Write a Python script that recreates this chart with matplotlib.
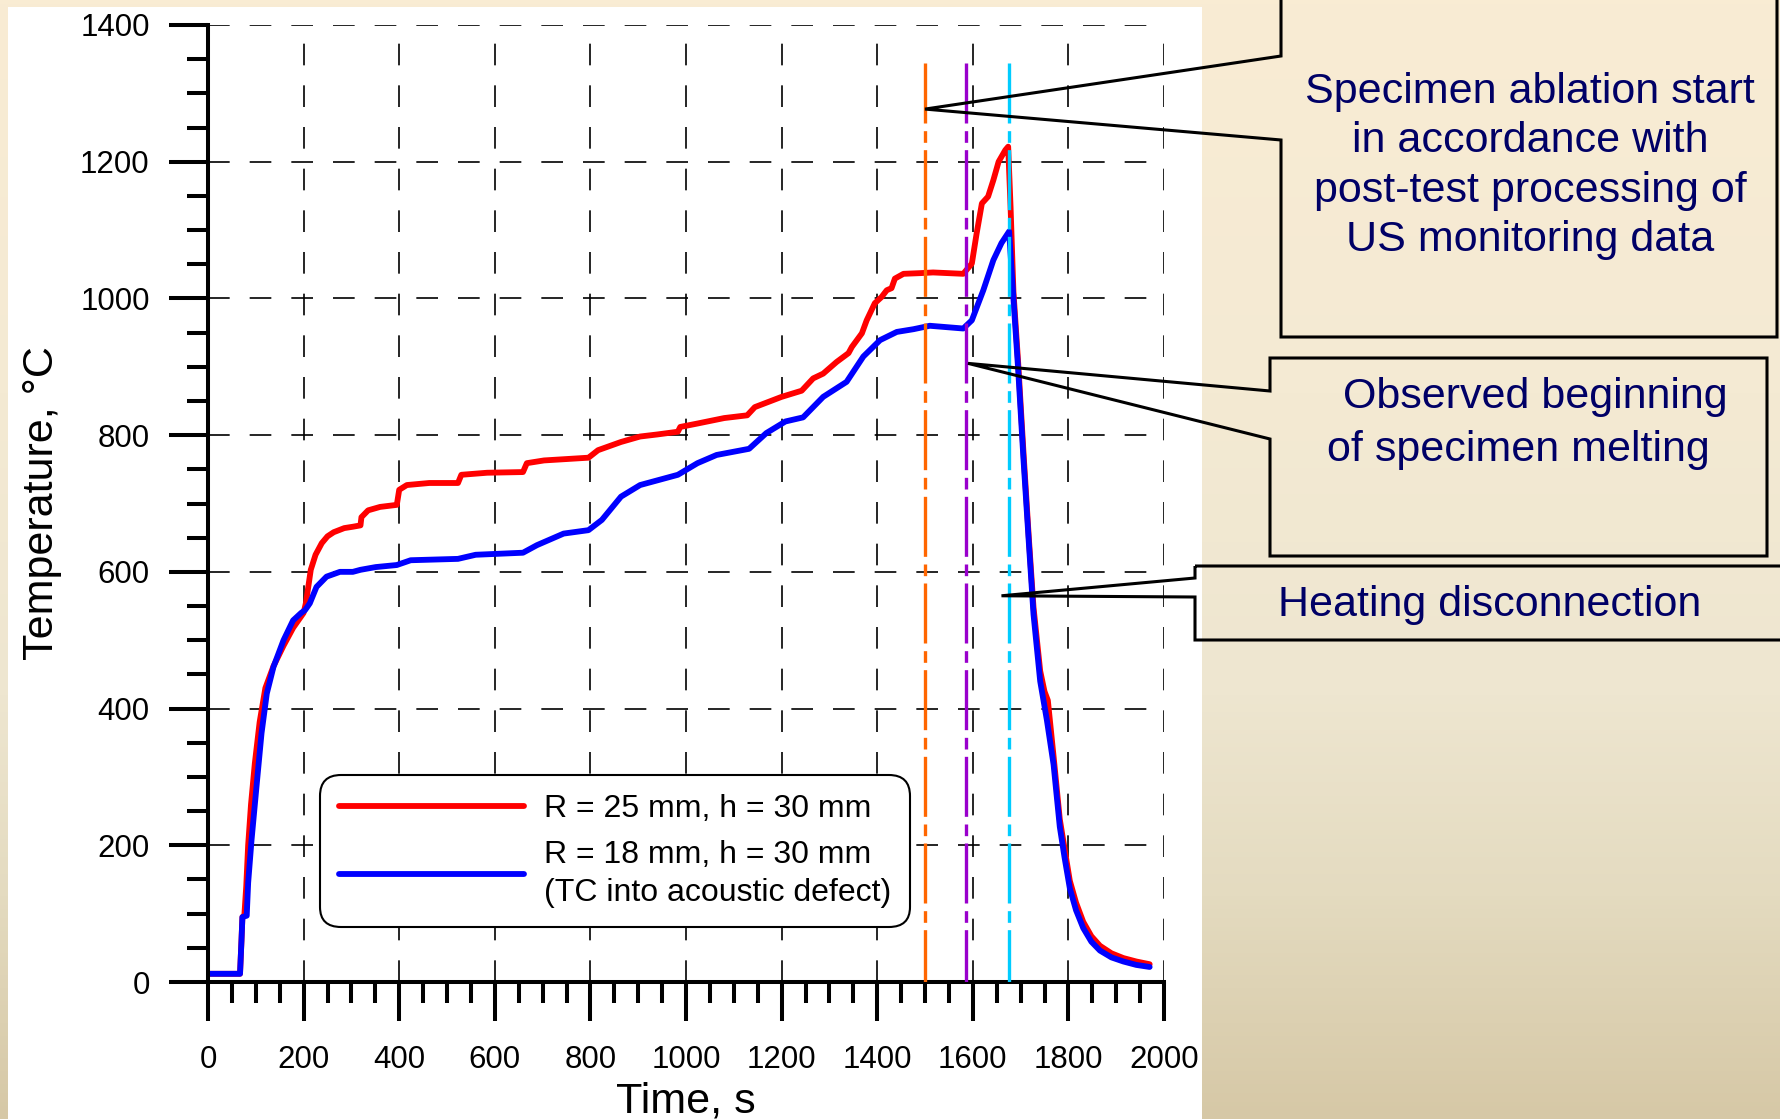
import matplotlib.pyplot as plt
import numpy as np
from matplotlib.patches import Polygon, Rectangle
from matplotlib.colors import LinearSegmentedColormap

plt.rcParams['font.family'] = ['Liberation Sans', 'DejaVu Sans']

# ---------------- data ----------------
# R = 25 mm, h = 30 mm
time_r = [0, 67, 70, 72, 76, 80, 84, 90, 98, 108, 120, 137, 158, 178, 200,
          205, 215, 225, 238, 250, 263, 285, 303, 319, 321, 335, 360, 395,
          400, 416, 463, 523, 530, 584, 659, 667, 703, 796, 816, 864, 904,
          940, 983, 988, 1024, 1080, 1128, 1144, 1200, 1242, 1266, 1287,
          1315, 1340, 1347, 1368, 1378, 1395, 1409, 1420, 1430, 1437, 1455,
          1490, 1517, 1580, 1598, 1608, 1619, 1632, 1643, 1654, 1668, 1674,
          1679, 1685, 1695, 1706, 1717, 1727, 1741, 1750, 1757, 1769, 1782,
          1792, 1803, 1816, 1831, 1848, 1866, 1890, 1915, 1942, 1970]
temp_r = [12, 12, 60, 95, 97, 140, 200, 260, 320, 380, 430, 462, 492, 518, 540,
          555, 603, 625, 642, 652, 658, 664, 666, 668, 680, 690, 695, 698,
          720, 727, 730, 730, 742, 745, 746, 759, 763, 767, 778, 790, 798,
          801, 805, 812, 817, 825, 829, 841, 856, 865, 883, 890,
          907, 920, 929, 949, 968, 993, 1002, 1012, 1015, 1029, 1036,
          1037, 1038, 1036, 1051, 1095, 1139, 1149, 1173, 1200, 1217, 1222,
          1134, 1010, 905, 775, 652, 548, 455, 425, 412, 330, 238,
          195, 148, 116, 88, 67, 53, 42, 35, 30, 26]

# R = 18 mm, h = 30 mm (TC into acoustic defect)
time_b = [0, 67, 70, 72, 81, 84, 91, 102, 112, 123, 137, 158, 178, 195, 203,
          213, 227, 248, 276, 303, 319, 351, 395, 424, 523, 560, 659, 688,
          744, 796, 824, 864, 904, 983, 1024, 1064, 1132, 1168, 1208, 1245,
          1287, 1336, 1371, 1406, 1441, 1476, 1510, 1545, 1580, 1598, 1622,
          1643, 1660, 1676, 1685, 1695, 1706, 1717, 1727, 1741, 1755, 1769,
          1782, 1792, 1803, 1816, 1831, 1848, 1866, 1890, 1915, 1942, 1970]
temp_b = [12, 12, 60, 95, 97, 145, 207, 290, 364, 422, 461, 500, 529, 540, 544,
          554, 578, 593, 600, 600, 603, 607, 610, 617, 619, 625, 628, 639,
          656, 661, 676, 710, 727, 742, 759, 771, 780, 803, 820, 826,
          856, 878, 915, 939, 951, 955, 960, 958, 956, 968, 1012,
          1056, 1081, 1098, 1000, 895, 765, 645, 538, 440, 383, 318,
          227, 182, 137, 105, 79, 59, 46, 36, 30, 25, 22]

# event markers: ablation start, melting onset, heating off
event_time = [1500, 1585, 1675]
event_color = ['#FF6600', '#9900CC', '#00CCFF']
event_top = 1345

labels = ['R = 25 mm, h = 30 mm', 'R = 18 mm, h = 30 mm\n(TC into acoustic defect)']

W, H = 1780, 1119
fig = plt.figure(figsize=(W / 100, H / 100), dpi=100)

# background: vertical beige gradient + white plot panel
bg = fig.add_axes([0, 0, 1, 1], zorder=-10)
bg_cmap = LinearSegmentedColormap.from_list('bg', [
    (0.0, (249/255, 236/255, 211/255)),
    (0.35, (244/255, 234/255, 211/255)),
    (0.62, (238/255, 230/255, 208/255)),
    (0.8, (228/255, 219/255, 192/255)),
    (1.0, (214/255, 200/255, 166/255))])
bg.imshow(np.linspace(0, 1, 256).reshape(-1, 1), aspect='auto', cmap=bg_cmap,
          extent=[0, 1, 0, 1])
bg.axis('off')
fig.add_artist(Rectangle((8 / W, 0), (1202 - 8) / W, 1 - 7 / H,
                         transform=fig.transFigure, facecolor='white',
                         edgecolor='none', zorder=-5))

ax = fig.add_axes([208 / W, 1 - 982 / H, 956 / W, 957 / H])
ax.patch.set_visible(False)

line_r, = ax.plot(time_r, temp_r, color='#FF0000', lw=4.2, zorder=2,
                  solid_joinstyle='round', solid_capstyle='round')
line_b, = ax.plot(time_b, temp_b, color='#0000FF', lw=4.2, zorder=2.1,
                  solid_joinstyle='round', solid_capstyle='round')

for t, c in zip(event_time, event_color):
    ax.plot([t, t], [event_top, 0], color=c, lw=2.4,
            linestyle=(0, (18, 2.3, 3.5, 2.2)), zorder=3)

ax.set_xlim(0, 2000)
ax.set_ylim(0, 1400)
ax.set_xticks(np.arange(0, 2001, 200))
ax.set_yticks(np.arange(0, 1401, 200))
ax.set_xticks(np.arange(0, 2001, 50), minor=True)
ax.set_yticks(np.arange(0, 1401, 50), minor=True)
ax.tick_params(which='major', direction='out', length=28, width=2.9,
               labelsize=22.5)
ax.tick_params(axis='x', which='major', pad=17)
ax.tick_params(axis='y', which='major', pad=14)
ax.tick_params(which='minor', direction='out', length=15, width=2.9)
ax.grid(True, which='major', color='black', lw=1.2, linestyle=(0, (13, 12)))

for s in ['top', 'right']:
    ax.spines[s].set_visible(False)
for s in ['left', 'bottom']:
    ax.spines[s].set_linewidth(2.9)

ax.set_xlabel('Time, s', fontsize=31)
ax.set_ylabel('Temperature, °C', fontsize=31)
ax.xaxis.set_label_coords(0.5, -0.104)
ax.yaxis.set_label_coords(-0.153, 0.5)

leg = ax.legend([line_r, line_b], labels, loc='upper left',
                bbox_to_anchor=(0.1172, 0.2163), borderaxespad=0, fontsize=23,
                handlelength=5.8, handletextpad=0.6, borderpad=0.6,
                labelspacing=0.5, fancybox=True, framealpha=1,
                edgecolor='black')
for txt in leg.get_texts():
    txt.set_linespacing(1.35)
leg.get_frame().set_linewidth(1.5)
leg.get_frame().set_boxstyle('round', pad=0, rounding_size=0.65)


# ---------------- callouts ----------------
def to_fig(x, y):
    return x / W, 1 - y / H


def callout(left, top, right, bottom, stem_top, stem_bot, tip):
    tx, ty = ax.transData.transform(tip)
    tip_f = (tx / W, ty / H)
    pts = [to_fig(left, top), to_fig(left, stem_top), tip_f,
           to_fig(left, stem_bot), to_fig(left, bottom),
           to_fig(right, bottom), to_fig(right, top)]
    fig.add_artist(Polygon(pts, closed=True, fill=False, edgecolor='black',
                           lw=2.2, joinstyle='miter',
                           transform=fig.transFigure, zorder=5))


callout(1281, -10, 1777, 337, 56, 140, (1500, 1277))
callout(1270, 358, 1767, 556, 391, 439, (1590, 905))
callout(1195, 566, 1800, 640, 578, 597, (1660, 565))

navy = '#000066'
fig.text(*to_fig(1530, 166), 'Specimen ablation start\nin accordance with\n'
         'post-test processing of\nUS monitoring data', fontsize=31,
         color=navy, ha='center', va='center', linespacing=1.3, zorder=6)
fig.text(*to_fig(1535, 397), 'Observed beginning', fontsize=31, color=navy,
         ha='center', va='center', zorder=6)
fig.text(*to_fig(1518, 450), 'of specimen melting', fontsize=31, color=navy,
         ha='center', va='center', zorder=6)
fig.text(*to_fig(1490, 605), 'Heating disconnection', fontsize=31, color=navy,
         ha='center', va='center', zorder=6)

fig.savefig('out.png', dpi=100)
